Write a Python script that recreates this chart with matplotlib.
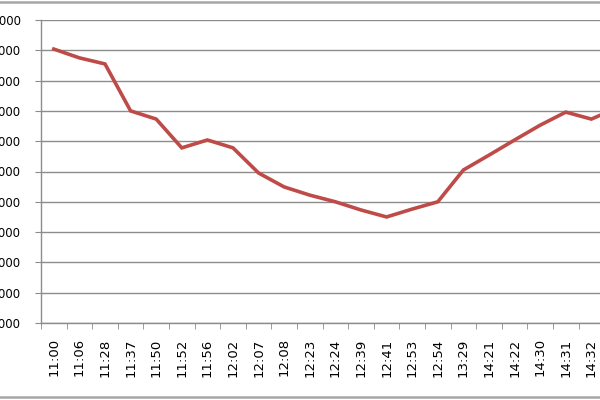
import matplotlib
matplotlib.use("Agg")
import matplotlib.pyplot as plt
from matplotlib.lines import Line2D

# category labels (times); the last one sits past the right edge of the crop
times = ["11:00", "11:06", "11:28", "11:37", "11:50", "11:52", "11:56",
         "12:02", "12:07", "12:08", "12:23", "12:24", "12:39", "12:41",
         "12:53", "12:54", "13:29", "14:21", "14:22", "14:30", "14:31",
         "14:32", "14:33"]
values = [19040, 18750, 18550, 17000, 16730, 15780, 16040,
          15780, 14950, 14490, 14220, 14000, 13730, 13500,
          13760, 14000, 15050, 15540, 16040, 16530, 16960,
          16730, 17100]
y_ticks = [10000, 11000, 12000, 13000, 14000, 15000,
           16000, 17000, 18000, 19000, 20000]

line_color = "#be4b48"
grid_color = "#8c8c8c"

fig = plt.figure(figsize=(6, 4), dpi=100)
# axes runs past the right edge, like the cropped screenshot
n = len(times)
ax = fig.add_axes([41 / 600, 77 / 400, n * 25.6 / 600, 303 / 400])

x = list(range(n))
ax.plot(x, values, color=line_color, linewidth=2.6, solid_joinstyle="miter")

ax.set_xlim(-0.5, n - 0.5)
ax.set_ylim(y_ticks[0], y_ticks[-1])
ax.set_yticks(y_ticks)
ax.set_yticklabels([str(v) for v in y_ticks], fontsize=8.5)
ax.set_xticks(x)
ax.set_xticklabels(times, rotation=90, fontsize=9.5)
ax.set_xticks([i - 0.5 for i in range(n + 1)], minor=True)

ax.tick_params(axis="x", which="major", length=0, pad=11)
ax.tick_params(axis="x", which="minor", length=4.5, color=grid_color, direction="out")
ax.tick_params(axis="y", length=4.5, color=grid_color, pad=10)

ax.yaxis.grid(True, color=grid_color, linewidth=1)
ax.set_axisbelow(True)
for side in ["top", "right"]:
    ax.spines[side].set_visible(False)
for side in ["left", "bottom"]:
    ax.spines[side].set_color(grid_color)
    ax.spines[side].set_linewidth(1)

# chart-area border (top and bottom edges show in the crop)
for yy in [1 - 2 / 400, 3 / 400]:
    fig.add_artist(Line2D([0, 1], [yy, yy], transform=fig.transFigure,
                          color="#a6a6a6", linewidth=1.8))

fig.savefig("out.png", dpi=100)
